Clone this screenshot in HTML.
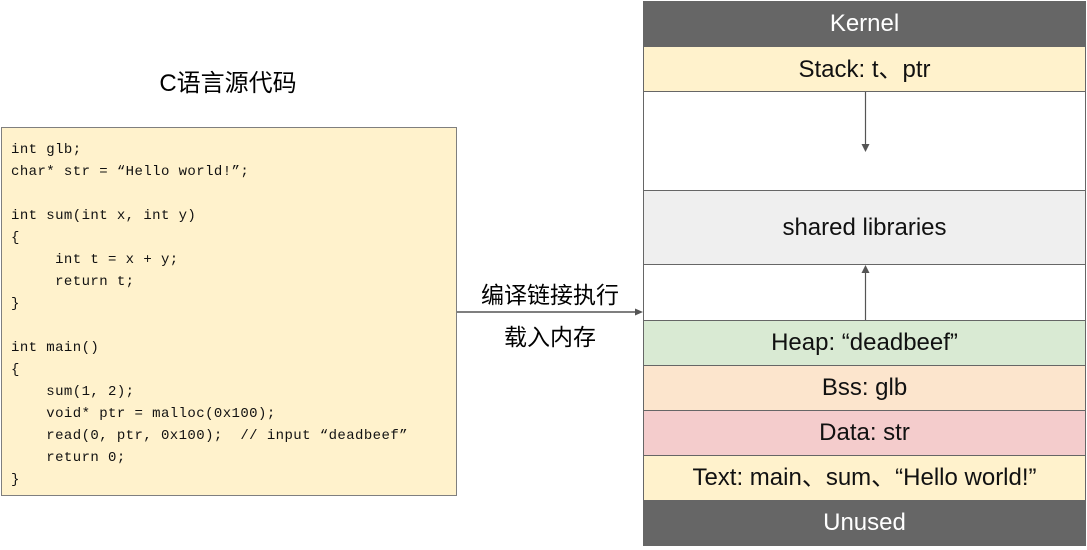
<!DOCTYPE html>
<html><head><meta charset="utf-8"><style>
body{margin:0;width:1087px;height:550px;background:#fff;position:relative;overflow:hidden;font-family:"Liberation Sans","Noto Sans CJK SC",sans-serif}
.t{position:absolute;white-space:pre}
.code{position:absolute;left:1px;top:127px;width:454px;height:367px;background:#fff2cc;border:1px solid #7f7f7f}
.code pre{margin:0;position:absolute;left:9px;top:11px;font-family:"Liberation Mono",monospace;font-size:14px;letter-spacing:0.42px;line-height:22px;color:#111}
.row{position:absolute;left:643px;width:443px;border:1px solid #666;box-sizing:border-box;text-align:center;font-size:24px;color:#111}
</style></head><body>
<div class="t" style="left:0;width:456px;top:63px;text-align:center;font-size:24px">C语言源代码</div>
<div class="code"><pre>int glb;
char* str = “Hello world!”;

int sum(int x, int y)
{
     int t = x + y;
     return t;
}

int main()
{
    sum(1, 2);
    void* ptr = malloc(0x100);
    read(0, ptr, 0x100);  // input “deadbeef”
    return 0;
}</pre></div>
<div class="t" style="left:457px;width:186px;top:276px;text-align:center;font-size:23px">编译链接执行</div>
<div class="t" style="left:457px;width:186px;top:318px;text-align:center;font-size:23px">载入内存</div>
<svg style="position:absolute;left:0;top:0" width="1087" height="550">
<line x1="457" y1="312" x2="636" y2="312" stroke="#555" stroke-width="1.5"/>
<polygon points="643,312 635,308.5 635,315.5" fill="#555"/>
</svg>
<div class="row" style="top:1px;height:46px;line-height:44px;background:#666;color:#fff">Kernel</div>
<div class="row" style="top:46px;height:46px;line-height:46px;background:#fff2cc">Stack: t、ptr</div>
<div class="row" style="top:91px;height:100px;background:#fff"></div>
<div class="row" style="top:190px;height:75px;line-height:73px;background:#efefef">shared libraries</div>
<div class="row" style="top:264px;height:57px;background:#fff"></div>
<div class="row" style="top:320px;height:46px;line-height:44px;background:#d9ead3">Heap: “deadbeef”</div>
<div class="row" style="top:365px;height:46px;line-height:44px;background:#fce5cd">Bss: glb</div>
<div class="row" style="top:410px;height:46px;line-height:44px;background:#f4cccc">Data: str</div>
<div class="row" style="top:455px;height:46px;line-height:44px;background:#fff2cc">Text: main、sum、“Hello world!”</div>
<div class="row" style="top:500px;height:46px;line-height:44px;background:#666;color:#fff">Unused</div>
<svg style="position:absolute;left:0;top:0" width="1087" height="550">
<line x1="865.5" y1="92" x2="865.5" y2="145" stroke="#555" stroke-width="1.2"/>
<polygon points="865.5,152 861.5,144 869.5,144" fill="#555"/>
<line x1="865.5" y1="320" x2="865.5" y2="272" stroke="#555" stroke-width="1.2"/>
<polygon points="865.5,265 861.5,273 869.5,273" fill="#555"/>
</svg>
</body></html>
